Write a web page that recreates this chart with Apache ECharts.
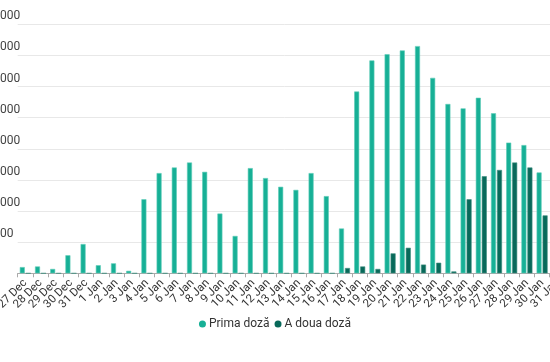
<!DOCTYPE html>
<html>
<head>
<meta charset="utf-8">
<script src="https://cdn.jsdelivr.net/npm/echarts@6/dist/echarts.min.js"></script>
<style>
html,body{margin:0;padding:0;background:#fff;}
#chart{width:550px;height:362px;}
</style>
</head>
<body>
<div id="chart"></div>
<script>
var categories = ['27 Dec','28 Dec','29 Dec','30 Dec','31 Dec','1 Jan','2 Jan','3 Jan','4 Jan','5 Jan','6 Jan','7 Jan','8 Jan','9 Jan','10 Jan','11 Jan','12 Jan','13 Jan','14 Jan','15 Jan','16 Jan','17 Jan','18 Jan','19 Jan','20 Jan','21 Jan','22 Jan','23 Jan','24 Jan','25 Jan','26 Jan','27 Jan','28 Jan','29 Jan','30 Jan','31 Jan'];
var primaDoza = [1000,1100,700,2900,4700,1300,1600,400,11900,16100,17000,17800,16300,9600,6000,16900,15300,13900,13400,16100,12400,7200,29200,34200,35200,35800,36500,31400,27200,26500,28200,25700,21000,20600,16200,null];
var aDouaDoza = [0,0,0,0,0,0,0,0,0,0,0,0,0,0,0,0,0,0,0,0,0,850,1100,700,3200,4100,1400,1700,300,11900,15600,16600,17800,17000,9300,null];
var seriesNames = ['Prima doză','A doua doză'];

var chart = echarts.init(document.getElementById('chart'), null, {renderer:'canvas'});
chart.setOption({
  animation:false,
  textStyle:{fontFamily:'Roboto'},
  grid:{left:17.7, right:-14.9, top:24.3, bottom:88.7, containLabel:false, outerBoundsMode:'none'},
  legend:{
    data:seriesNames, bottom:27, left:'center', icon:'circle',
    itemWidth:7, itemHeight:7, itemGap:5,
    itemStyle:{borderWidth:0},
    textStyle:{fontSize:12, color:'#333', fontFamily:'Roboto', padding:[0,0,0,-2]}
  },
  xAxis:{
    type:'category', data:categories,
    axisLine:{lineStyle:{color:'#aaa', width:1}},
    axisTick:{show:true, alignWithLabel:false, length:4, lineStyle:{color:'#aaa'}},
    axisLabel:{rotate:45, fontSize:11.5, color:'#333', margin:8, interval:0, hideOverlap:false}
  },
  yAxis:{
    type:'value', min:0, max:40000, interval:5000,
    axisLine:{show:false}, axisTick:{show:false},
    splitLine:{lineStyle:{color:'#e8e8e8', width:1}},
    axisLabel:{align:'left', verticalAlign:'bottom', margin:31.3, fontSize:12, color:'#444', padding:[0,0,2,0],
      formatter:function(v){return String(v);}}
  },
  series:[
    {name:seriesNames[0], type:'bar', data:primaDoza, barWidth:5, barGap:'20%',
     itemStyle:{color:'#17b096', borderColor:'#5fcdb8', borderWidth:0.6}},
    {name:seriesNames[1], type:'bar', data:aDouaDoza, barWidth:5,
     itemStyle:{color:'#08695a', borderColor:'#3f8e80', borderWidth:0.6}}
  ]
});
</script>
</body>
</html>
